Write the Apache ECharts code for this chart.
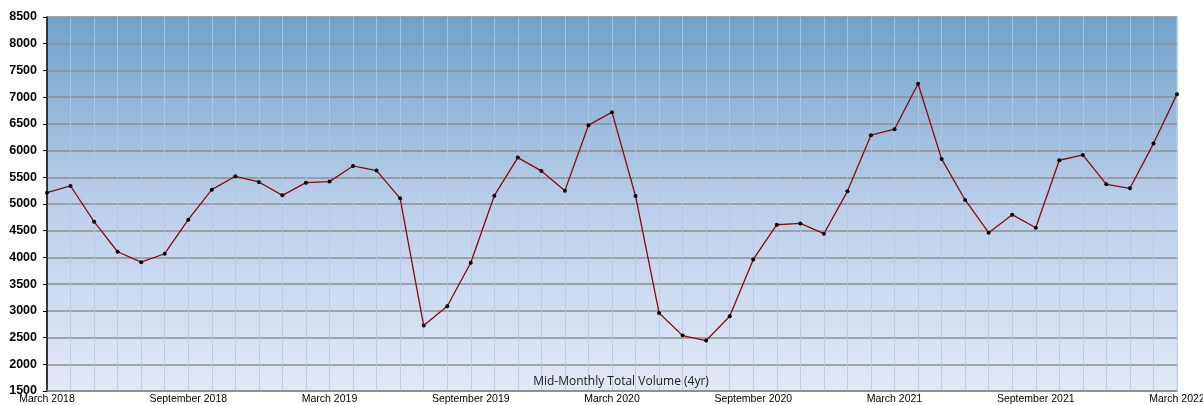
<!DOCTYPE html>
<html>
<head>
<meta charset="utf-8">
<script src="https://cdn.jsdelivr.net/npm/echarts@6/dist/echarts.min.js"></script>
<style>
html,body{margin:0;padding:0;background:#fff;}
#chart{width:1203px;height:405px;}
</style>
</head>
<body>
<div id="chart"></div>
<script>
const categories = [
  "March 2018","April 2018","May 2018","June 2018","July 2018","August 2018",
  "September 2018","October 2018","November 2018","December 2018","January 2019","February 2019",
  "March 2019","April 2019","May 2019","June 2019","July 2019","August 2019",
  "September 2019","October 2019","November 2019","December 2019","January 2020","February 2020",
  "March 2020","April 2020","May 2020","June 2020","July 2020","August 2020",
  "September 2020","October 2020","November 2020","December 2020","January 2021","February 2021",
  "March 2021","April 2021","May 2021","June 2021","July 2021","August 2021",
  "September 2021","October 2021","November 2021","December 2021","January 2022","February 2022",
  "March 2022"
];
const volumes = [
  5212, 5337, 4669, 4106, 3912, 4069,
  4706, 5269, 5519, 5412, 5162, 5400,
  5419, 5712, 5625, 5106, 2725, 3087,
  3900, 5156, 5869, 5619, 5250, 6475,
  6719, 5150, 2960, 2537, 2444, 2900,
  3962, 4612, 4637, 4444, 5237, 6287,
  6400, 7250, 5844, 5075, 4462, 4800,
  4556, 5819, 5919, 5369, 5294, 6131,
  7056
];
const chartTitle = "Mid-Monthly Total Volume (4yr)";
const yMin = 1500, yMax = 8500, yStep = 500;

const chart = echarts.init(document.getElementById('chart'), null, {renderer: 'canvas'});
chart.setOption({
  animation: false,
  backgroundColor: '#ffffff',
  title: {
    text: chartTitle,
    left: 616,
    top: 371,
    textAlign: 'center',
    textStyle: {fontFamily: 'Open Sans', fontSize: 12, fontWeight: 'normal', color: '#1a1a1a'}
  },
  grid: {
    left: 47, right: 26, top: 17, bottom: 14,
    containLabel: false,
    outerBoundsMode: 'none',
    show: true,
    borderWidth: 1,
    borderColor: '#c8d4e4',
    backgroundColor: new echarts.graphic.LinearGradient(0, 0, 0, 1, [
      {offset: 0, color: '#6fa2cb'},
      {offset: 0.5, color: '#bccfeb'},
      {offset: 1, color: '#e2e9f6'}
    ])
  },
  xAxis: {
    type: 'category',
    data: categories,
    boundaryGap: false,
    axisLine: {show: true, lineStyle: {color: '#8a8a8a', width: 1.5}},
    axisTick: {show: false},
    axisLabel: {
      interval: 5,
      margin: 3,
      color: '#000',
      fontFamily: 'Liberation Sans',
      fontSize: 10.5,
      hideOverlap: false
    },
    splitLine: {show: true, interval: 0, lineStyle: {color: 'rgba(176,200,234,0.8)', width: 1}}
  },
  yAxis: {
    type: 'value',
    min: yMin, max: yMax, interval: yStep,
    axisLine: {show: true, lineStyle: {color: '#000', width: 1.5}},
    axisTick: {show: true, length: 4, lineStyle: {color: '#000'}},
    axisLabel: {
      margin: 10,
      color: '#000',
      fontFamily: 'Liberation Sans',
      fontWeight: 'bold',
      fontSize: 12.5,
      formatter: function (v) { return String(v); }
    },
    splitLine: {show: true, lineStyle: {color: '#8e8e8e', width: 1.5}}
  },
  series: [{
    type: 'line',
    data: volumes,
    symbol: 'circle',
    symbolSize: 4,
    itemStyle: {color: '#000'},
    lineStyle: {color: '#8b0a0a', width: 1.3},
    z: 5
  }]
});
</script>
</body>
</html>
